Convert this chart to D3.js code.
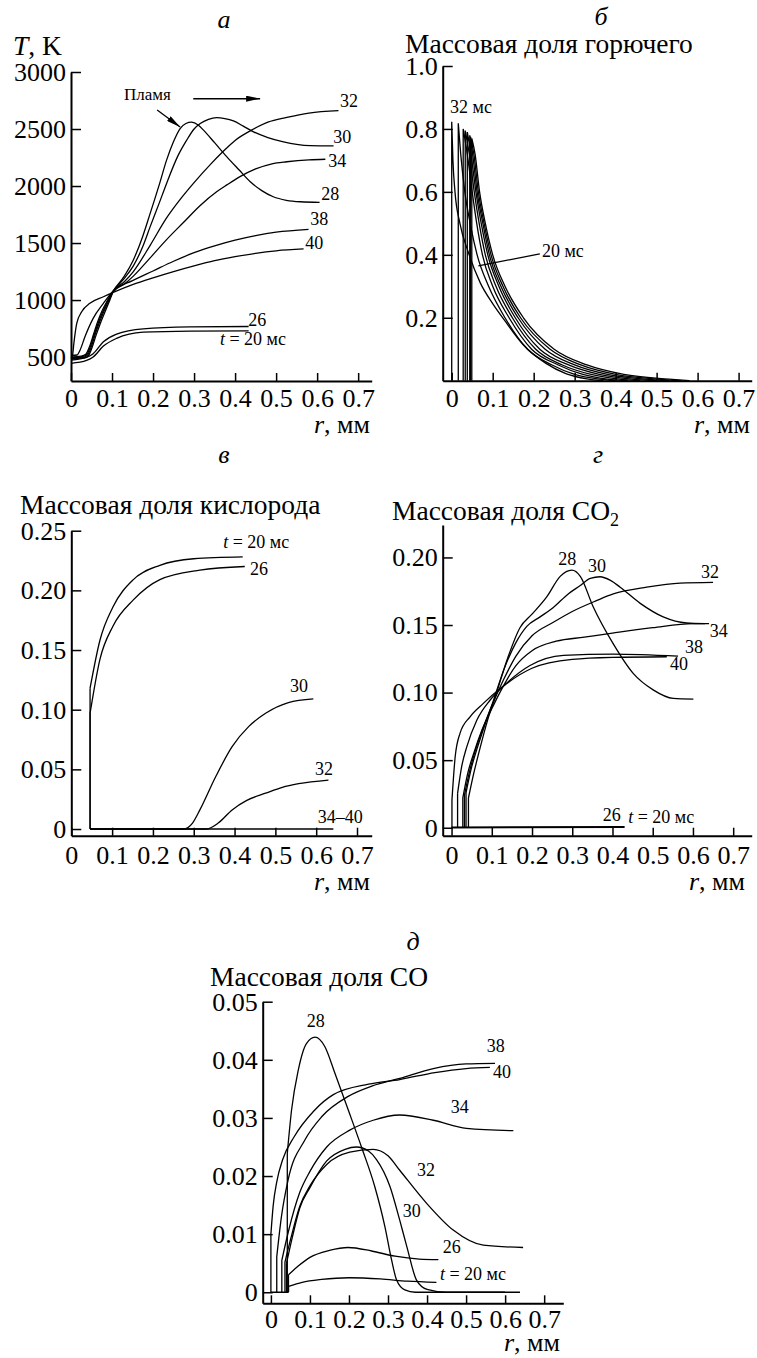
<!DOCTYPE html>
<html>
<head>
<meta charset="utf-8">
<script src="https://cdn.jsdelivr.net/npm/d3@7"></script>
<style>
  html, body { margin: 0; padding: 0; background: #fff; }
  svg { display: block; }
</style>
</head>
<body>
<svg id="chart" width="757" height="1358"></svg>
<script>
// общие деления по r, мм
const rTicks = [0, 0.1, 0.2, 0.3, 0.4, 0.5, 0.6, 0.7]

// а — температура, K  (точки [r, T])
const tempTicks = [500, 1000, 1500, 2000, 2500, 3000]
const temp20 = [[0, 445], [0.038, 470], [0.054, 500], [0.079, 596], [0.111, 664], [0.176, 718], [0.29, 728], [0.433, 730]]
const temp26 = [[0, 474], [0.038, 498], [0.054, 530], [0.079, 634], [0.111, 702], [0.176, 748], [0.29, 764], [0.433, 768]]
const temp28 = [[0, 500], [0.025, 508], [0.036, 525], [0.045, 590], [0.055, 700], [0.065, 810], [0.075, 900], [0.088, 990], [0.103, 1080], [0.13, 1210], [0.152, 1352], [0.175, 1560], [0.193, 1760], [0.215, 2010], [0.233, 2227], [0.25, 2390], [0.266, 2504], [0.28, 2548], [0.294, 2560], [0.31, 2535], [0.323, 2490], [0.35, 2380], [0.38, 2256], [0.41, 2140], [0.437, 2037], [0.465, 1960], [0.493, 1906], [0.525, 1875], [0.559, 1862], [0.606, 1857]]
const temp30 = [[0, 495], [0.027, 503], [0.038, 520], [0.047, 590], [0.057, 700], [0.067, 805], [0.077, 895], [0.09, 990], [0.103, 1078], [0.13, 1190], [0.152, 1300], [0.175, 1470], [0.193, 1644], [0.215, 1850], [0.233, 2023], [0.26, 2260], [0.282, 2402], [0.3, 2500], [0.315, 2548], [0.335, 2585], [0.355, 2600], [0.375, 2592], [0.396, 2571], [0.42, 2525], [0.445, 2475], [0.48, 2425], [0.518, 2387], [0.55, 2365], [0.583, 2354], [0.64, 2352]]
const temp32 = [[0, 490], [0.03, 498], [0.04, 515], [0.049, 585], [0.059, 700], [0.069, 800], [0.079, 890], [0.091, 985], [0.103, 1075], [0.13, 1160], [0.152, 1250], [0.193, 1480], [0.233, 1720], [0.27, 1900], [0.3, 2030], [0.34, 2190], [0.37, 2300], [0.4, 2400], [0.44, 2490], [0.48, 2560], [0.526, 2602], [0.58, 2640], [0.652, 2661]]
const temp34 = [[0, 485], [0.032, 493], [0.042, 510], [0.051, 580], [0.061, 690], [0.071, 790], [0.081, 880], [0.093, 985], [0.103, 1072], [0.13, 1140], [0.152, 1210], [0.193, 1370], [0.233, 1530], [0.274, 1680], [0.315, 1830], [0.355, 1950], [0.38, 2010], [0.412, 2082], [0.45, 2150], [0.49, 2195], [0.526, 2213], [0.58, 2230], [0.62, 2235]]
const temp38 = [[0, 515], [0.015, 518], [0.022, 560], [0.034, 678], [0.054, 839], [0.079, 971], [0.103, 1080], [0.15, 1170], [0.2, 1255], [0.25, 1340], [0.3, 1415], [0.35, 1475], [0.4, 1525], [0.45, 1565], [0.5, 1595], [0.579, 1620]]
const temp40 = [[0, 488], [0.004, 520], [0.007, 620], [0.014, 795], [0.026, 897], [0.046, 971], [0.079, 1029], [0.103, 1067], [0.15, 1135], [0.2, 1195], [0.25, 1250], [0.3, 1300], [0.35, 1345], [0.4, 1380], [0.45, 1410], [0.5, 1432], [0.567, 1448]]
const tempLabels = [['32', 0.656, 2693], ['30', 0.639, 2377], ['34', 0.627, 2167], ['28', 0.61, 1877], ['38', 0.583, 1658], ['40', 0.571, 1447], ['26', 0.432, 772], ['t = 20 мс', 0.363, 605]]
const flamePointer = [[0.21, 2667], [0.266, 2518]]
const flameArrow = [[0.298, 2766], [0.461, 2766]]

// б — массовая доля горючего
const fuelTicks = [0.2, 0.4, 0.6, 0.8, 1.0]
const fuel32 = [[0, 0], [0, 0.823], [0.003, 0.7], [0.008, 0.6], [0.02, 0.5], [0.04, 0.41], [0.07, 0.31], [0.1, 0.245], [0.13, 0.19], [0.174, 0.115], [0.23, 0.055], [0.28, 0.022], [0.33, 0.006], [0.37, 0]]
const fuel34 = [[0.016, 0], [0.016, 0.818], [0.022, 0.72], [0.032, 0.6], [0.045, 0.5], [0.062, 0.4], [0.09, 0.3], [0.13, 0.2], [0.185, 0.1], [0.245, 0.05], [0.3, 0.02], [0.36, 0.005], [0.4, 0]]
const fuel28 = [[0.028, 0], [0.028, 0.8], [0.038, 0.72], [0.05, 0.6], [0.061, 0.5], [0.075, 0.4], [0.1, 0.3], [0.14, 0.2], [0.195, 0.1], [0.26, 0.05], [0.32, 0.02], [0.38, 0.005], [0.43, 0]]
const fuel30 = [[0.033, 0], [0.033, 0.795], [0.043, 0.72], [0.055, 0.6], [0.067, 0.5], [0.082, 0.4], [0.108, 0.3], [0.148, 0.2], [0.205, 0.1], [0.27, 0.05], [0.34, 0.02], [0.41, 0.005], [0.46, 0]]
const fuel26 = [[0.038, 0], [0.038, 0.79], [0.047, 0.72], [0.059, 0.6], [0.072, 0.5], [0.088, 0.4], [0.115, 0.3], [0.155, 0.2], [0.215, 0.1], [0.285, 0.05], [0.36, 0.02], [0.44, 0.005], [0.5, 0]]
const fuel20 = [[0.044, 0], [0.044, 0.78], [0.051, 0.72], [0.062, 0.6], [0.076, 0.5], [0.092, 0.4], [0.12, 0.3], [0.162, 0.2], [0.228, 0.1], [0.3, 0.05], [0.38, 0.02], [0.47, 0.005], [0.53, 0]]
const fuel38 = [[0.046, 0], [0.046, 0.775], [0.054, 0.72], [0.065, 0.6], [0.079, 0.5], [0.096, 0.4], [0.125, 0.3], [0.168, 0.2], [0.24, 0.1], [0.315, 0.05], [0.4, 0.02], [0.5, 0.005], [0.56, 0]]
const fuel40 = [[0.049, 0], [0.049, 0.77], [0.057, 0.72], [0.068, 0.6], [0.082, 0.5], [0.1, 0.4], [0.13, 0.3], [0.175, 0.2], [0.25, 0.1], [0.33, 0.05], [0.42, 0.02], [0.53, 0.005], [0.58, 0]]
const fuelLabels = [['32 мс', -0.004, 0.851], ['20 мс', 0.22, 0.393]]
const fuelLeader = [[0.065, 0.365], [0.215, 0.403]]

// в — массовая доля кислорода
const oxTicks = [0, 0.05, 0.1, 0.15, 0.2, 0.25]
const ox20 = [[0.046, 0], [0.046, 0.118], [0.07, 0.158], [0.102, 0.186], [0.152, 0.209], [0.217, 0.221], [0.3, 0.2265], [0.42, 0.228]]
const ox26 = [[0.046, 0], [0.046, 0.097], [0.07, 0.142], [0.102, 0.17], [0.152, 0.192], [0.217, 0.209], [0.315, 0.217], [0.425, 0.22]]
const ox30 = [[0.046, 0], [0.275, 0], [0.297, 0.005], [0.315, 0.016], [0.354, 0.044], [0.394, 0.069], [0.435, 0.086], [0.476, 0.097], [0.532, 0.106], [0.593, 0.109]]
const ox32 = [[0.046, 0], [0.33, 0], [0.36, 0.005], [0.394, 0.016], [0.43, 0.024], [0.476, 0.03], [0.517, 0.035], [0.557, 0.038], [0.63, 0.041]]
const ox34to40 = [[0.046, 0], [0.642, 0]]
const oxLabels = [['t = 20 мс', 0.372, 0.2353], ['26', 0.438, 0.2127], ['30', 0.536, 0.1147], ['32', 0.597, 0.0452], ['34–40', 0.604, 0.005]]

// г — массовая доля CO2
const co2Ticks = [0, 0.05, 0.1, 0.15, 0.2]
const co2_20 = [[0, 0], [0.43, 0.0003]]
const co2_26 = [[0, 0.0005], [0.43, 0.0008]]
const co2_28 = [[0.042, 0], [0.042, 0.022], [0.055, 0.04], [0.07, 0.058], [0.09, 0.08], [0.112, 0.1], [0.14, 0.126], [0.17, 0.148], [0.2, 0.158], [0.237, 0.171], [0.27, 0.186], [0.299, 0.1906], [0.32, 0.186], [0.352, 0.1635], [0.402, 0.136], [0.452, 0.114], [0.501, 0.102], [0.551, 0.0957], [0.601, 0.0952]]
const co2_30 = [[0.036, 0], [0.036, 0.026], [0.05, 0.045], [0.065, 0.06], [0.085, 0.078], [0.105, 0.095], [0.13, 0.117], [0.16, 0.137], [0.187, 0.149], [0.22, 0.156], [0.253, 0.163], [0.29, 0.173], [0.319, 0.179], [0.345, 0.1845], [0.369, 0.1857], [0.395, 0.183], [0.419, 0.178], [0.469, 0.166], [0.526, 0.156], [0.584, 0.1515], [0.63, 0.151]]
const co2_32 = [[0.032, 0], [0.032, 0.024], [0.045, 0.042], [0.06, 0.058], [0.08, 0.075], [0.1, 0.09], [0.13, 0.11], [0.16, 0.127], [0.2, 0.142], [0.253, 0.152], [0.3, 0.16], [0.36, 0.168], [0.402, 0.173], [0.485, 0.178], [0.568, 0.181], [0.65, 0.1815]]
const co2_34 = [[0.028, 0], [0.028, 0.022], [0.04, 0.04], [0.055, 0.055], [0.075, 0.072], [0.1, 0.088], [0.12, 0.1], [0.16, 0.12], [0.2, 0.131], [0.26, 0.138], [0.33, 0.141], [0.4, 0.144], [0.5, 0.148], [0.6, 0.151], [0.64, 0.151]]
const co2_38 = [[0.015, 0], [0.015, 0.0254], [0.025, 0.045], [0.038, 0.06], [0.063, 0.0797], [0.096, 0.0945], [0.137, 0.107], [0.195, 0.12], [0.278, 0.1275], [0.402, 0.1285], [0.563, 0.127]]
const co2_40 = [[0.001, 0], [0.001, 0.0205], [0.009, 0.0525], [0.021, 0.0698], [0.046, 0.0821], [0.079, 0.092], [0.121, 0.103], [0.2, 0.118], [0.3, 0.1245], [0.4, 0.126], [0.535, 0.1265]]
const co2Labels = [['28', 0.265, 0.1943], ['30', 0.339, 0.1892], ['32', 0.62, 0.1848], ['34', 0.642, 0.1411], ['38', 0.58, 0.1293], ['40', 0.543, 0.1167], ['26', 0.376, 0.005], ['t = 20 мс', 0.439, 0.0035]]

// д — массовая доля CO
const coTicks = [0, 0.01, 0.02, 0.03, 0.04, 0.05]
const co20 = [[0, 0], [0.045, 0], [0.045, 0.001], [0.08, 0.0017], [0.13, 0.0022], [0.2, 0.0025], [0.28, 0.0023], [0.35, 0.0019], [0.424, 0.0017]]
const co26 = [[0.045, 0], [0.045, 0.003], [0.07, 0.0045], [0.1, 0.006], [0.15, 0.0072], [0.198, 0.0077], [0.258, 0.0071], [0.318, 0.0062], [0.38, 0.0057], [0.429, 0.0056]]
const co28 = [[0.042, 0], [0.042, 0.0239], [0.053, 0.0314], [0.07, 0.0382], [0.091, 0.0428], [0.113, 0.0439], [0.138, 0.0423], [0.164, 0.0377], [0.198, 0.0314], [0.232, 0.025], [0.266, 0.0182], [0.292, 0.0113], [0.309, 0.0056], [0.322, 0.0021], [0.343, 0.0004], [0.37, 0], [0.6, 0]]
const co30 = [[0.04, 0], [0.04, 0.005], [0.055, 0.0095], [0.074, 0.0145], [0.1, 0.018], [0.143, 0.0226], [0.19, 0.0246], [0.219, 0.025], [0.25, 0.0243], [0.271, 0.0228], [0.305, 0.0182], [0.33, 0.0124], [0.348, 0.0079], [0.373, 0.0021], [0.4, 0.0005], [0.45, 0], [0.638, 0]]
const co32 = [[0.036, 0], [0.036, 0.0052], [0.05, 0.009], [0.074, 0.0148], [0.1, 0.0183], [0.143, 0.022], [0.202, 0.0241], [0.262, 0.0246], [0.3, 0.0235], [0.33, 0.021], [0.399, 0.0153], [0.467, 0.0107], [0.544, 0.0081], [0.646, 0.0077]]
const co34 = [[0.028, 0], [0.028, 0.0055], [0.045, 0.0105], [0.074, 0.0172], [0.1, 0.0208], [0.143, 0.025], [0.202, 0.0279], [0.262, 0.0296], [0.33, 0.0305], [0.416, 0.0296], [0.501, 0.0282], [0.621, 0.0278]]
const co38 = [[0.015, 0], [0.015, 0.0061], [0.027, 0.013], [0.044, 0.0193], [0.087, 0.0262], [0.13, 0.0302], [0.198, 0.0337], [0.26, 0.0355], [0.33, 0.0368], [0.416, 0.0385], [0.5, 0.0393], [0.574, 0.0394]]
const co40 = [[0, 0], [0, 0.01], [0.006, 0.015], [0.015, 0.019], [0.03, 0.0228], [0.06, 0.0268], [0.11, 0.0312], [0.16, 0.034], [0.25, 0.0358], [0.33, 0.0366], [0.42, 0.0378], [0.5, 0.0385], [0.561, 0.0387]]
const coLabels = [['28', 0.092, 0.0456], ['38', 0.553, 0.0413], ['40', 0.569, 0.0369], ['34', 0.461, 0.0308], ['32', 0.374, 0.02], ['30', 0.338, 0.013], ['26', 0.44, 0.0068], ['t = 20 мс', 0.433, 0.0021]]

const FONT = "'Liberation Serif', 'Times New Roman', serif"
const TICK_SIZE = 26
const TITLE_SIZE = 27.5
const svg = d3.select('#chart')
svg.append('rect').attr('width', 757).attr('height', 1358).attr('fill', '#fff')

// наконечник стрелки
svg.append('defs').append('marker')
  .attr('id', 'head')
  .attr('viewBox', '0 0 14 6')
  .attr('refX', 14)
  .attr('refY', 3)
  .attr('markerWidth', 14)
  .attr('markerHeight', 6)
  .attr('markerUnits', 'userSpaceOnUse')
  .attr('orient', 'auto')
  .append('path')
  .attr('d', 'M0,0L14,3L0,6Z')
  .attr('fill', '#000')

const fmtR = d => (d === 0 ? '0' : d3.format('.1f')(d))
const fmt2 = d => (d === 0 ? '0' : d3.format('.2f')(d))

const panels = [
  { xDomain: [0, 0.733], xRange: [71, 371.7], yDomain: [290, 3000], yRange: [381, 72],
    yTicks: tempTicks, yFormat: d3.format('d'), xPad: 8,
    series: [temp20, temp26, temp28, temp30, temp32, temp34, temp38, temp40], labels: tempLabels,
    rLabel: [370, 433] },
  { xDomain: [-0.022, 0.732], xRange: [442.7, 751.7], yDomain: [0, 1], yRange: [380.7, 66],
    yTicks: fuelTicks, yFormat: d3.format('.1f'), xPad: 8,
    series: [fuel32, fuel34, fuel28, fuel30, fuel26, fuel20, fuel38, fuel40], labels: fuelLabels,
    rLabel: [750, 433] },
  { xDomain: [0, 0.736], xRange: [71.3, 371.7], yDomain: [-0.0056, 0.25], yRange: [835.7, 530.7],
    yTicks: oxTicks, yFormat: fmt2, xPad: 10,
    series: [ox20, ox26, ox30, ox32, ox34to40], labels: oxLabels,
    rLabel: [370, 890] },
  { xDomain: [-0.022, 0.746], xRange: [442.7, 751.7], yDomain: [-0.0059, 0.224], yRange: [835.7, 525],
    yTicks: co2Ticks, yFormat: fmt2, xPad: 10,
    series: [co2_20, co2_26, co2_28, co2_30, co2_32, co2_34, co2_38, co2_40], labels: co2Labels,
    rLabel: [745, 890] },
  { xDomain: [-0.021, 0.749], xRange: [262.7, 563.3], yDomain: [-0.0019, 0.05], yRange: [1303.3, 1001.7],
    yTicks: coTicks, yFormat: fmt2, xPad: 6,
    series: [co20, co26, co28, co30, co32, co34, co38, co40], labels: coLabels,
    rLabel: [560, 1351] }
]

// разбивает кривую на гладкие участки и вертикальные стенки
function curvePath(pts, line) {
  const runs = []
  let cur = [pts[0]]
  for (let i = 1; i < pts.length; i++) {
    if (pts[i][0] === pts[i - 1][0]) {
      runs.push(cur)
      runs.push([pts[i - 1], pts[i]])
      cur = [pts[i]]
    } else {
      cur.push(pts[i])
    }
  }
  runs.push(cur)
  return runs.filter(r => r.length > 1).map(r => line(r)).join('')
}

function addLabel(g, text, x, y, size) {
  const t = g.append('text')
    .attr('x', x).attr('y', y)
    .attr('font-family', FONT)
    .attr('font-size', size)
    .attr('fill', '#000')
  if (text.startsWith('t = ')) {
    t.append('tspan').attr('font-style', 'italic').text('t')
    t.append('tspan').text(text.slice(1))
  } else {
    t.text(text)
  }
  return t
}

panels.forEach(p => {
  const g = svg.append('g')
  const x = d3.scaleLinear().domain(p.xDomain).range(p.xRange)
  const y = d3.scaleLinear().domain(p.yDomain).range(p.yRange)

  const gx = g.append('g')
    .attr('transform', `translate(0,${p.yRange[0]})`)
    .call(d3.axisBottom(x).tickValues(rTicks).tickFormat(fmtR).tickSizeInner(-8).tickSizeOuter(0).tickPadding(p.xPad))
  const gy = g.append('g')
    .attr('transform', `translate(${p.xRange[0]},0)`)
    .call(d3.axisLeft(y).tickValues(p.yTicks).tickFormat(p.yFormat).tickSizeInner(-10).tickSizeOuter(0).tickPadding(5))
  ;[gx, gy].forEach(a => {
    a.attr('font-family', FONT).attr('font-size', TICK_SIZE)
    a.select('.domain').attr('stroke', '#000').attr('stroke-width', 2)
    a.selectAll('.tick line').attr('stroke', '#000').attr('stroke-width', 1.5)
    a.selectAll('.tick text').attr('fill', '#000')
  })

  const line = d3.line().x(d => x(d[0])).y(d => y(d[1])).curve(d3.curveMonotoneX)
  g.append('g')
    .selectAll('path')
    .data(p.series)
    .enter()
    .append('path')
    .attr('d', d => curvePath(d, line))
    .attr('fill', 'none')
    .attr('stroke', '#000')
    .attr('stroke-width', 1.3)

  p.labels.forEach(([text, r, v]) => addLabel(g, text, x(r), y(v), 18))

  // подпись оси r
  const rl = g.append('text')
    .attr('x', p.rLabel[0]).attr('y', p.rLabel[1])
    .attr('text-anchor', 'end')
    .attr('font-family', FONT).attr('font-size', TICK_SIZE).attr('fill', '#000')
  rl.append('tspan').attr('font-style', 'italic').text('r')
  rl.append('tspan').text(', мм')

  p.x = x
  p.y = y
})

// стрелки «Пламя»
const pa = panels[0]
const arrowLine = d3.line().x(d => pa.x(d[0])).y(d => pa.y(d[1]))
svg.append('path').attr('d', arrowLine(flamePointer)).attr('stroke', '#000').attr('stroke-width', 1.3).attr('marker-end', 'url(#head)')
svg.append('path').attr('d', arrowLine(flameArrow)).attr('stroke', '#000').attr('stroke-width', 1.5).attr('marker-end', 'url(#head)')
addLabel(svg, 'Пламя', 124, 100, 17)

// выноска «20 мс» на панели б
const pb = panels[1]
svg.append('path')
  .attr('d', d3.line().x(d => pb.x(d[0])).y(d => pb.y(d[1]))(fuelLeader))
  .attr('stroke', '#000').attr('stroke-width', 1.3)

// заголовки панелей
const titles = [
  { t: 'а', x: 224, y: 28, italic: true, anchor: 'middle' },
  { t: 'б', x: 601, y: 25, italic: true, anchor: 'middle' },
  { t: 'в', x: 224, y: 463, italic: true, anchor: 'middle' },
  { t: 'г', x: 598, y: 463, italic: true, anchor: 'middle' },
  { t: 'д', x: 413, y: 950, italic: true, anchor: 'middle' },
  { t: 'Массовая доля горючего', x: 405, y: 53 },
  { t: 'Массовая доля кислорода', x: 20, y: 514 },
  { t: 'Массовая доля CO', x: 210, y: 986 }
]
titles.forEach(d => {
  svg.append('text')
    .attr('x', d.x).attr('y', d.y)
    .attr('text-anchor', d.anchor || 'start')
    .attr('font-family', FONT).attr('font-size', d.italic ? 26 : TITLE_SIZE).attr('fill', '#000')
    .attr('font-style', d.italic ? 'italic' : null)
    .text(d.t)
})

const tK = svg.append('text').attr('x', 13).attr('y', 55)
  .attr('font-family', FONT).attr('font-size', TITLE_SIZE).attr('fill', '#000')
tK.append('tspan').attr('font-style', 'italic').text('T')
tK.append('tspan').text(', K')

const tCO2 = svg.append('text').attr('x', 392).attr('y', 520)
  .attr('font-family', FONT).attr('font-size', TITLE_SIZE).attr('fill', '#000')
tCO2.append('tspan').text('Массовая доля CO')
tCO2.append('tspan').attr('font-size', 18).attr('dy', 6).text('2')
</script>
</body>
</html>
